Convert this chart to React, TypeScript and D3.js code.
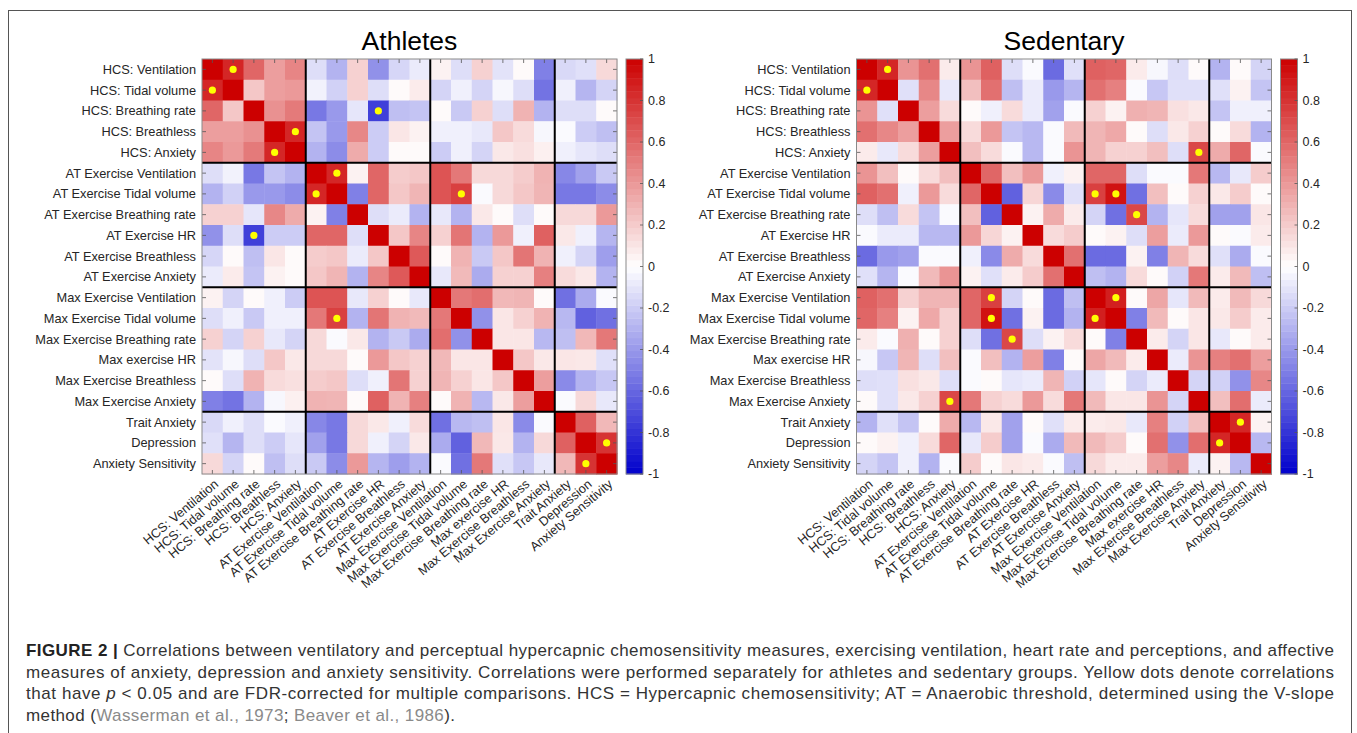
import React from 'react'
import * as d3 from 'd3'

const labels = [
  'HCS: Ventilation', 'HCS: Tidal volume', 'HCS: Breathing rate', 'HCS: Breathless', 'HCS: Anxiety',
  'AT Exercise Ventilation', 'AT Exercise Tidal volume', 'AT Exercise Breathing rate', 'AT Exercise HR',
  'AT Exercise Breathless', 'AT Exercise Anxiety', 'Max Exercise Ventilation', 'Max Exercise Tidal volume',
  'Max Exercise Breathing rate', 'Max exercise HR', 'Max Exercise Breathless', 'Max Exercise Anxiety',
  'Trait Anxiety', 'Depression', 'Anxiety Sensitivity',
]

// block boundaries (HCS | AT | Max | affective)
const blockEdges = [5, 11, 17]

// lower triangle of each correlation matrix (row i, cols 0..i-1), diagonal = 1
const athletesLower = [
  [],
  [0.85],
  [0.6, 0.22],
  [0.38, 0.38, 0.43],
  [0.48, 0.4, 0.52, 0.85],
  [-0.13, -0.05, -0.53, -0.23, -0.3],
  [-0.3, -0.18, -0.4, -0.4, -0.45, 0.85],
  [0.18, 0.18, -0.1, 0.47, 0.33, 0.05, -0.5],
  [-0.43, -0.13, -0.75, -0.2, -0.2, 0.6, 0.6, -0.13],
  [-0.16, 0.02, -0.25, 0.1, 0.02, 0.2, 0.22, -0.08, 0.22],
  [-0.08, 0.08, -0.23, 0.05, 0.02, 0.22, 0.29, -0.3, 0.48, 0.65],
  [0.05, -0.17, 0.02, -0.06, -0.2, 0.67, 0.67, -0.09, 0.18, 0.02, -0.09],
  [-0.13, -0.06, -0.21, -0.06, -0.06, 0.53, 0.75, -0.3, 0.54, 0.3, 0.27, 0.53],
  [0.18, -0.17, 0.18, -0.09, -0.17, 0.15, -0.02, 0.09, -0.3, -0.21, -0.33, 0.57, -0.43],
  [-0.11, -0.03, -0.13, 0.22, 0.09, 0.15, 0.15, 0.02, 0.4, 0.22, 0.18, 0.28, 0.1, 0.1],
  [0.02, -0.13, 0.3, 0.14, 0.12, 0.2, 0.22, -0.13, -0.06, 0.54, 0.18, 0.29, 0.18, 0.1, 0.22],
  [-0.5, -0.55, -0.3, -0.03, 0.06, 0.3, 0.29, 0.02, 0.62, 0.3, 0.5, 0.02, 0.3, -0.28, 0.09, 0.38],
  [-0.15, -0.06, -0.13, -0.02, -0.06, -0.47, -0.53, 0.15, 0.09, -0.06, 0.14, -0.56, -0.28, -0.25, 0.1, -0.46, -0.02],
  [-0.12, -0.29, -0.13, -0.2, -0.1, -0.37, -0.53, 0.15, -0.06, -0.17, 0.09, -0.33, -0.62, 0.28, 0.09, -0.3, 0.15, 0.62],
  [0.15, -0.17, 0.02, -0.25, -0.13, -0.21, -0.45, 0.4, -0.29, -0.38, -0.3, -0.02, -0.56, 0.53, -0.12, -0.22, -0.09, 0.28, 0.8],
]

const sedentaryLower = [
  [],
  [0.85],
  [0.42, -0.12],
  [0.56, 0.47, 0.38],
  [0.08, -0.09, 0.14, 0.38],
  [0.42, 0.25, 0.02, 0.14, 0.25],
  [0.62, 0.56, -0.06, 0.4, 0.14, 0.6],
  [-0.13, -0.25, 0.14, -0.23, -0.02, 0.25, -0.62],
  [-0.02, -0.08, -0.08, -0.28, -0.28, 0.4, 0.16, 0.05],
  [-0.58, -0.4, -0.37, -0.02, -0.02, -0.06, -0.46, 0.33, 0.14],
  [-0.12, -0.29, -0.02, 0.27, 0.42, 0.05, -0.12, 0.08, 0.2, 0.56],
  [0.62, 0.56, 0.18, 0.29, 0.29, 0.6, 0.75, -0.17, 0.02, -0.58, -0.25],
  [0.6, 0.5, 0.05, 0.34, 0.18, 0.6, 0.93, -0.56, 0.05, -0.58, -0.3, 0.88],
  [0.08, -0.02, 0.31, 0.02, 0.18, -0.13, -0.56, 0.72, -0.13, 0.05, 0.14, 0.02, -0.5],
  [-0.03, -0.22, 0.29, -0.13, 0.25, -0.02, 0.25, -0.3, 0.38, -0.5, 0.02, 0.35, 0.27, 0.08],
  [-0.13, -0.12, 0.12, 0.09, -0.13, -0.02, 0.02, -0.1, -0.08, 0.29, -0.18, -0.1, 0.02, -0.17, -0.08],
  [0.02, -0.12, 0.09, 0.18, 0.72, 0.53, 0.18, 0.14, 0.4, 0.14, 0.53, 0.27, 0.1, 0.1, 0.42, -0.17],
  [-0.3, -0.12, -0.23, 0.02, 0.33, -0.28, 0.09, -0.37, 0.02, -0.12, 0.08, 0.08, 0.09, -0.09, 0.5, -0.18, 0.25],
  [0.02, 0.05, -0.06, 0.14, 0.6, -0.09, 0.2, -0.37, -0.02, -0.33, 0.27, 0.27, 0.2, 0.02, 0.56, -0.43, 0.57, 0.85],
  [-0.17, -0.23, -0.06, -0.3, -0.02, 0.2, 0.02, 0.1, 0.08, -0.02, -0.25, 0.15, 0.08, 0.08, 0.38, 0.47, -0.08, 0.05, -0.28],
]

// significant (FDR-corrected) pairs -> yellow dots
const athletesSig = [[0, 1], [3, 4], [2, 8], [5, 6], [6, 12], [18, 19]]
const sedentarySig = [[0, 1], [4, 16], [6, 11], [6, 12], [7, 13], [11, 12], [17, 18]]

const colorbarTicks = [1, 0.8, 0.6, 0.4, 0.2, 0, -0.2, -0.4, -0.6, -0.8, -1]

const captionLines = [
  'Correlations between ventilatory and perceptual hypercapnic chemosensitivity measures, exercising ventilation, heart rate and perceptions, and affective',
  'measures of anxiety, depression and anxiety sensitivity. Correlations were performed separately for athletes and sedentary groups. Yellow dots denote correlations',
  ' < 0.05 and are FDR-corrected for multiple comparisons. HCS = Hypercapnic chemosensitivity; AT = Anaerobic threshold, determined using the V-slope',
]

const color = d3.scaleLinear<string>().domain([-1, 0, 1]).range(['#0000cc', '#ffffff', '#cc0000']).clamp(true)

function fullMatrix(lower: number[][]) {
  const n = lower.length
  return d3.range(n).map(i => d3.range(n).map(j => (i === j ? 1 : i > j ? lower[i][j] : lower[j][i])))
}

const SIZE = 415
const TOP = 59
const FONT = "'Liberation Sans', Arial, Helvetica, sans-serif"
const LABEL_SIZE = 12.8

function Heatmap({ title, lower, sig, left }: { title: string; lower: number[][]; sig: number[][]; left: number }) {
  const m = fullMatrix(lower)
  const n = labels.length
  const x = d3.scaleBand<number>().domain(d3.range(n)).range([left, left + SIZE])
  const y = d3.scaleBand<number>().domain(d3.range(n)).range([TOP, TOP + SIZE])
  const bw = x.bandwidth()
  const bottom = TOP + SIZE
  const right = left + SIZE

  // colorbar
  const cbX = right + 9
  const cbW = 17
  const cy = d3.scaleLinear().domain([-1, 1]).range([bottom, TOP])
  const steps = 64
  const stepVals = d3.range(steps).map(k => -1 + (2 * (k + 0.5)) / steps)

  const dots: number[][] = []
  sig.forEach(([a, b]) => { dots.push([a, b]); dots.push([b, a]) })

  return (
    <g fontFamily={FONT}>
      <text x={left + SIZE / 2} y={50} textAnchor="middle" fontSize={26.5} fill="#000">{title}</text>
      {m.map((row, i) => row.map((v, j) => (
        <rect key={`${i}-${j}`} x={x(j)} y={y(i)} width={bw + 0.5} height={bw + 0.5} fill={color(v)} />
      )))}
      {dots.map(([i, j]) => (
        <circle key={`d${i}-${j}`} cx={x(j)! + bw / 2} cy={y(i)! + bw / 2} r={3.6} fill="#ffff00" />
      ))}
      {/* ticks inside the box */}
      {d3.range(n).map(k => {
        const cx = x(k)! + bw / 2
        const cyy = y(k)! + bw / 2
        return (
          <g key={`t${k}`} stroke="#555" strokeWidth={0.8}>
            <line x1={cx} x2={cx} y1={TOP} y2={TOP + 4} />
            <line x1={cx} x2={cx} y1={bottom} y2={bottom - 4} />
            <line x1={left} x2={left + 4} y1={cyy} y2={cyy} />
            <line x1={right} x2={right - 4} y1={cyy} y2={cyy} />
          </g>
        )
      })}
      {blockEdges.map(k => (
        <g key={`b${k}`} stroke="#000" strokeWidth={2}>
          <line x1={x(k)} x2={x(k)} y1={TOP} y2={bottom} />
          <line x1={left} x2={right} y1={y(k)} y2={y(k)} />
        </g>
      ))}
      <rect x={left} y={TOP} width={SIZE} height={SIZE} fill="none" stroke="#8a8a8a" strokeWidth={1} />
      {labels.map((l, i) => (
        <text key={`r${i}`} x={left - 6} y={y(i)! + bw / 2} dy="0.35em" textAnchor="end" fontSize={LABEL_SIZE} fill="#262626">{l}</text>
      ))}
      {labels.map((l, i) => (
        <text key={`c${i}`} transform={`translate(${x(i)! + bw / 2 + 4},${bottom + 8}) rotate(-40)`} dy="0.35em"
          textAnchor="end" fontSize={LABEL_SIZE} fill="#262626">{l}</text>
      ))}
      {stepVals.map((v, k) => (
        <rect key={`s${k}`} x={cbX} y={cy(v + 1 / steps)} width={cbW} height={(SIZE / steps) + 0.4} fill={color(v)} />
      ))}
      <rect x={cbX} y={TOP} width={cbW} height={SIZE} fill="none" stroke="#8a8a8a" strokeWidth={1} />
      {colorbarTicks.map(t => (
        <g key={`cb${t}`}>
          <line x1={cbX + cbW} x2={cbX + cbW - 3} y1={cy(t)} y2={cy(t)} stroke="#555" strokeWidth={0.8} />
          <text x={cbX + cbW + 5} y={cy(t)} dy="0.35em" fontSize={12.5} fill="#262626">{String(Math.round(t * 10) / 10)}</text>
        </g>
      ))}
    </g>
  )
}

export default function App() {
  const capX = 26
  const capW = 1308
  const capFont = "'Liberation Sans Narrow', 'Liberation Sans', Arial, sans-serif"
  return (
    <svg width={1357} height={733} style={{ position: 'absolute', left: 0, top: 0, background: '#fff' }}>
      <rect x={0} y={0} width={1357} height={733} fill="#fff" />
      <rect x={8.5} y={10.5} width={1343} height={740} fill="none" stroke="#555" strokeWidth={1} />
      <Heatmap title="Athletes" lower={athletesLower} sig={athletesSig} left={202} />
      <Heatmap title="Sedentary" lower={sedentaryLower} sig={sedentarySig} left={856.5} />
      <g fontFamily={capFont} fontSize={17} fill="#333">
        <text x={capX} y={656} textLength={capW} lengthAdjust="spacing">
          <tspan fontWeight="bold" fill="#222">FIGURE 2 | </tspan>{captionLines[0]}
        </text>
        <text x={capX} y={678} textLength={capW} lengthAdjust="spacing">{captionLines[1]}</text>
        <text x={capX} y={699} textLength={capW} lengthAdjust="spacing">
          that have <tspan fontStyle="italic">p</tspan>{captionLines[2]}
        </text>
        <text x={capX} y={721} textLength={429} lengthAdjust="spacing">
          method (<tspan fill="#8a8a8a">Wasserman et al., 1973</tspan>; <tspan fill="#8a8a8a">Beaver et al., 1986</tspan>).
        </text>
      </g>
    </svg>
  )
}
